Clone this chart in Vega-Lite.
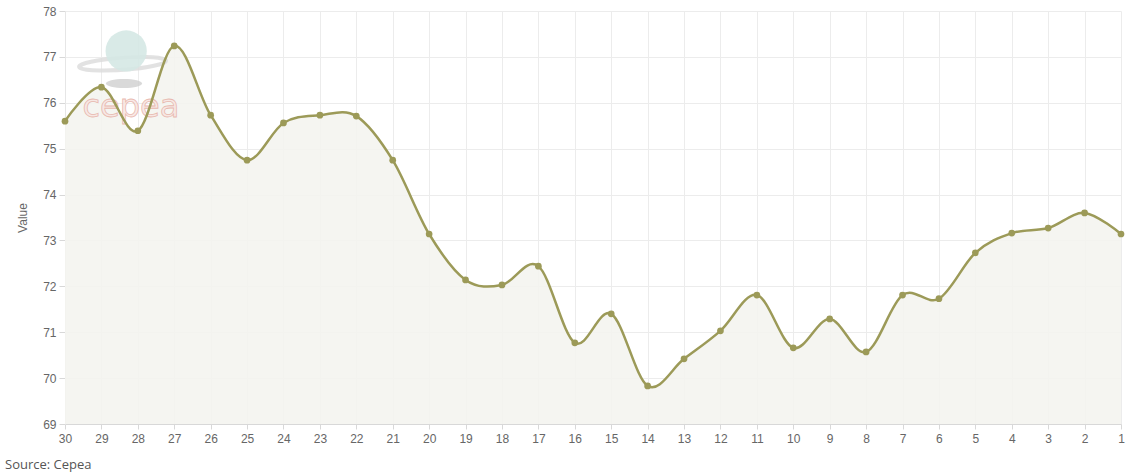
{
  "$schema": "https://vega.github.io/schema/vega-lite/v6.json",
  "width": 1056,
  "height": 413,
  "autosize": {"type": "none"},
  "padding": {"left": 65, "top": 11, "right": 14, "bottom": 49},
  "background": "#ffffff",
  "config": {
    "view": {"stroke": null},
    "font": "Liberation Sans",
    "axis": {
      "labelFont": "Liberation Sans",
      "titleFont": "Liberation Sans",
      "labelColor": "#666666",
      "labelFontSize": 12,
      "titleColor": "#666666",
      "titleFontSize": 12,
      "titleFontWeight": "normal",
      "labelOverlap": false,
      "grid": true,
      "gridColor": "#ececec",
      "gridWidth": 1,
      "tickColor": "#d8d8d8"
    },
    "axisX": {"domainColor": "#d8d8d8", "tickSize": 5, "labelPadding": 4, "labelFlush": false},
    "axisY": {"domainColor": "#e6e6e6", "tickSize": 6, "labelPadding": 3, "titlePadding": 13}
  },
  "datasets": {
    "prices": [
      {"day": 30, "value": 75.60},
      {"day": 29, "value": 76.34},
      {"day": 28, "value": 75.39},
      {"day": 27, "value": 77.24},
      {"day": 26, "value": 75.73},
      {"day": 25, "value": 74.75},
      {"day": 24, "value": 75.56},
      {"day": 23, "value": 75.73},
      {"day": 22, "value": 75.71},
      {"day": 21, "value": 74.75},
      {"day": 20, "value": 73.14},
      {"day": 19, "value": 72.14},
      {"day": 18, "value": 72.03},
      {"day": 17, "value": 72.44},
      {"day": 16, "value": 70.77},
      {"day": 15, "value": 71.40},
      {"day": 14, "value": 69.83},
      {"day": 13, "value": 70.42},
      {"day": 12, "value": 71.03},
      {"day": 11, "value": 71.81},
      {"day": 10, "value": 70.66},
      {"day": 9, "value": 71.29},
      {"day": 8, "value": 70.57},
      {"day": 7, "value": 71.81},
      {"day": 6, "value": 71.73},
      {"day": 5, "value": 72.73},
      {"day": 4, "value": 73.16},
      {"day": 3, "value": 73.27},
      {"day": 2, "value": 73.60},
      {"day": 1, "value": 73.14}
    ],
    "one": [{"label": "x"}]
  },
  "layer": [
    {
      "data": {"name": "prices"},
      "mark": {"type": "area", "interpolate": "cardinal", "color": "#f4f4ef", "opacity": 0.9, "clip": true},
      "encoding": {
        "x": {"field": "day", "type": "quantitative", "scale": {"domain": [30, 1], "nice": false, "zero": false},
          "axis": {"title": null, "format": "d", "values": [30,29,28,27,26,25,24,23,22,21,20,19,18,17,16,15,14,13,12,11,10,9,8,7,6,5,4,3,2,1]}},
        "y": {"field": "value", "type": "quantitative", "scale": {"domain": [69, 78], "nice": false, "zero": false},
          "axis": {"title": "Value", "values": [69,70,71,72,73,74,75,76,77,78]}}
      }
    },
    {
      "data": {"name": "one"},
      "mark": {"type": "point", "filled": false, "shape": "M -1 0.1 A 1 0.14 -4 1 0 1 -0.1 A 1 0.14 -4 1 0 -1 0.1 Z", "size": 7200, "stroke": "#dcdcdc", "strokeWidth": 4, "opacity": 0.8},
      "encoding": {
        "x": {"datum": 28.42, "type": "quantitative", "axis": {"title": null, "format": "d", "values": [30,29,28,27,26,25,24,23,22,21,20,19,18,17,16,15,14,13,12,11,10,9,8,7,6,5,4,3,2,1]}},
        "y": {"datum": 76.85, "type": "quantitative", "axis": {"title": "Value", "values": [69,70,71,72,73,74,75,76,77,78]}}
      }
    },
    {
      "data": {"name": "one"},
      "mark": {"type": "point", "filled": true, "shape": "M -1 0 A 1 0.25 0 1 0 1 0 A 1 0.25 0 1 0 -1 0 Z", "size": 1300, "color": "#d0d0d0", "opacity": 0.8},
      "encoding": {
        "x": {"datum": 28.38, "type": "quantitative", "axis": {"title": null, "format": "d", "values": [30,29,28,27,26,25,24,23,22,21,20,19,18,17,16,15,14,13,12,11,10,9,8,7,6,5,4,3,2,1]}},
        "y": {"datum": 76.42, "type": "quantitative", "axis": {"title": "Value", "values": [69,70,71,72,73,74,75,76,77,78]}}
      }
    },
    {
      "data": {"name": "one"},
      "mark": {"type": "point", "filled": true, "size": 1700, "color": "#d5e8e4", "opacity": 0.9},
      "encoding": {
        "x": {"datum": 28.32, "type": "quantitative", "axis": {"title": null, "format": "d", "values": [30,29,28,27,26,25,24,23,22,21,20,19,18,17,16,15,14,13,12,11,10,9,8,7,6,5,4,3,2,1]}},
        "y": {"datum": 77.13, "type": "quantitative", "axis": {"title": "Value", "values": [69,70,71,72,73,74,75,76,77,78]}}
      }
    },
    {
      "data": {"name": "one"},
      "mark": {"type": "text", "text": "cepea", "fontSize": 32, "font": "DejaVu Sans", "color": "#f8e6e2", "stroke": "#e6aea4", "strokeWidth": 0.8, "opacity": 0.85},
      "encoding": {
        "x": {"datum": 28.19, "type": "quantitative", "axis": {"title": null, "format": "d", "values": [30,29,28,27,26,25,24,23,22,21,20,19,18,17,16,15,14,13,12,11,10,9,8,7,6,5,4,3,2,1]}},
        "y": {"datum": 75.91, "type": "quantitative", "axis": {"title": "Value", "values": [69,70,71,72,73,74,75,76,77,78]}}
      }
    },
    {
      "data": {"name": "prices"},
      "mark": {"type": "line", "interpolate": "cardinal", "color": "#9c9a58", "strokeWidth": 2.5},
      "encoding": {
        "x": {"field": "day", "type": "quantitative", "axis": {"title": null, "format": "d", "values": [30,29,28,27,26,25,24,23,22,21,20,19,18,17,16,15,14,13,12,11,10,9,8,7,6,5,4,3,2,1]}},
        "y": {"field": "value", "type": "quantitative", "axis": {"title": "Value", "values": [69,70,71,72,73,74,75,76,77,78]}}
      }
    },
    {
      "data": {"name": "prices"},
      "mark": {"type": "point", "filled": true, "size": 45, "color": "#9c9a58", "opacity": 1},
      "encoding": {
        "x": {"field": "day", "type": "quantitative", "axis": {"title": null, "format": "d", "values": [30,29,28,27,26,25,24,23,22,21,20,19,18,17,16,15,14,13,12,11,10,9,8,7,6,5,4,3,2,1]}},
        "y": {"field": "value", "type": "quantitative", "axis": {"title": "Value", "values": [69,70,71,72,73,74,75,76,77,78]}}
      }
    },
    {
      "data": {"name": "one"},
      "mark": {"type": "text", "text": "Source: Cepea", "align": "left", "baseline": "middle", "fontSize": 13, "font": "Open Sans", "fontWeight": "normal", "color": "#555555", "dx": -60, "dy": 41},
      "encoding": {
        "x": {"datum": 30, "type": "quantitative", "axis": {"title": null, "format": "d", "values": [30,29,28,27,26,25,24,23,22,21,20,19,18,17,16,15,14,13,12,11,10,9,8,7,6,5,4,3,2,1]}},
        "y": {"datum": 69, "type": "quantitative", "axis": {"title": "Value", "values": [69,70,71,72,73,74,75,76,77,78]}}
      }
    }
  ]
}
